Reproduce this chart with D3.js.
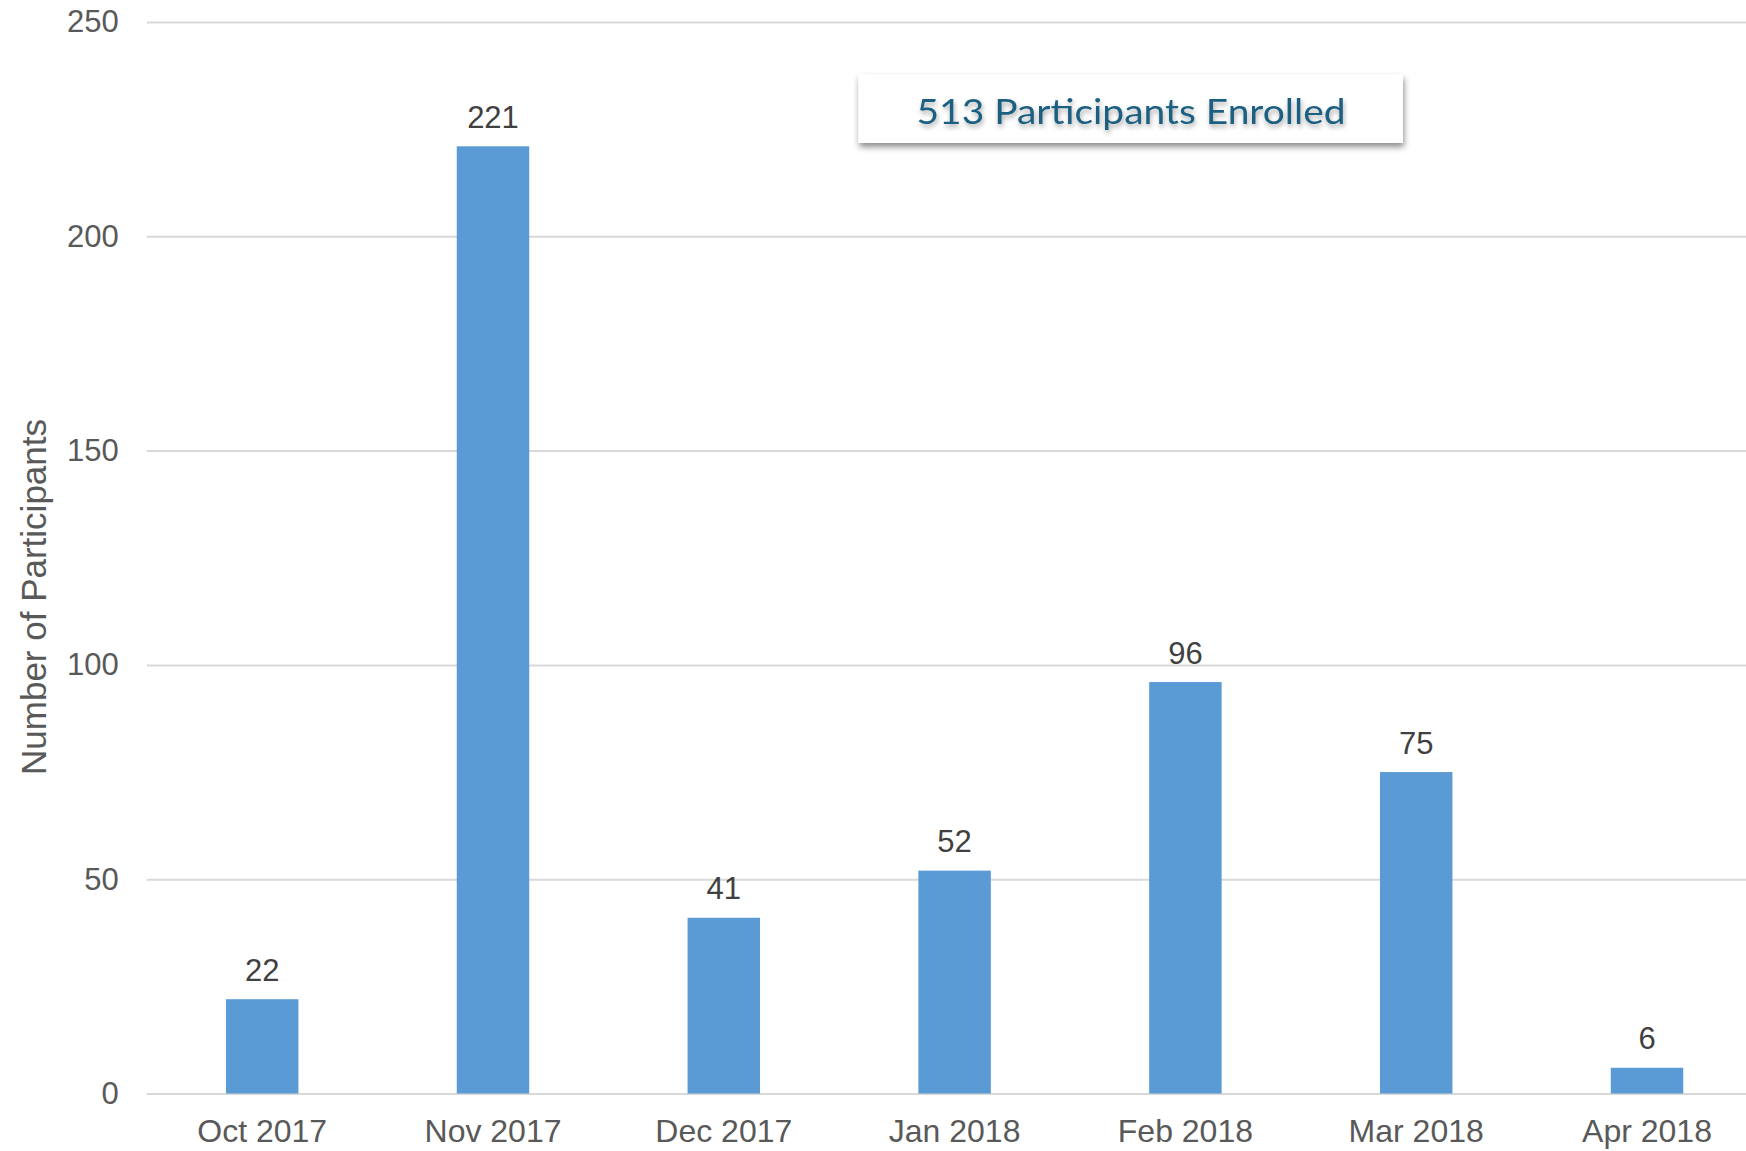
<!DOCTYPE html>
<html>
<head>
<meta charset="utf-8">
<script src="https://cdn.jsdelivr.net/npm/d3@7"></script>
<style>
  html, body { margin: 0; padding: 0; background: #fff; }
  svg { display: block; }
</style>
</head>
<body>
<script>
const categories = ["Oct 2017", "Nov 2017", "Dec 2017", "Jan 2018", "Feb 2018", "Mar 2018", "Apr 2018"];
const participants = [22, 221, 41, 52, 96, 75, 6];
const yTicks = [0, 50, 100, 150, 200, 250];
const yTitle = "Number of Participants";
const boxText = "513 Participants Enrolled";

const W = 1746, H = 1151;
const svg = d3.select("body").append("svg").attr("width", W).attr("height", H);

const defs = svg.append("defs");
const fBox = defs.append("filter").attr("id", "boxShadow")
  .attr("x", "-10%").attr("y", "-30%").attr("width", "120%").attr("height", "170%");
fBox.append("feDropShadow").attr("dx", 1).attr("dy", 4).attr("stdDeviation", 3)
  .attr("flood-color", "#000").attr("flood-opacity", 0.45);
const fTxt = defs.append("filter").attr("id", "txtShadow")
  .attr("x", "-10%").attr("y", "-30%").attr("width", "120%").attr("height", "170%");
fTxt.append("feDropShadow").attr("dx", 1).attr("dy", 3).attr("stdDeviation", 2.5)
  .attr("flood-color", "#000").attr("flood-opacity", 0.35);

const x0 = 146.8, step = 230.8;
const x = d3.scaleBand().domain(categories)
  .range([x0, x0 + step * categories.length])
  .paddingInner(0.686).paddingOuter(0.343);
const y = d3.scaleLinear().domain([0, 250]).range([1093.5, 22]);

// gridlines
svg.append("g").attr("transform", `translate(${x0},0)`)
  .call(d3.axisLeft(y).tickValues(yTicks).tickSize(-(W + 40 - x0)).tickFormat(""))
  .call(g => g.select(".domain").remove())
  .call(g => g.selectAll("line").attr("stroke", "#d9d9d9").attr("stroke-width", 2));

// y tick labels
svg.append("g").attr("transform", `translate(${x0},0)`)
  .call(d3.axisLeft(y).tickValues(yTicks).tickSize(0).tickPadding(28))
  .call(g => g.select(".domain").remove())
  .call(g => g.selectAll("text")
    .attr("font-family", "Liberation Sans, Arial, sans-serif")
    .attr("font-size", 31).attr("fill", "#595959"));

// bars
svg.append("g").selectAll("rect").data(participants).join("rect")
  .attr("x", (d, i) => x(categories[i]))
  .attr("width", x.bandwidth())
  .attr("y", d => y(d))
  .attr("height", d => y(0) - y(d))
  .attr("fill", "#5b9bd5");

// data labels
svg.append("g").selectAll("text").data(participants).join("text")
  .attr("x", (d, i) => x(categories[i]) + x.bandwidth() / 2)
  .attr("y", d => y(d) - 18.5)
  .attr("text-anchor", "middle")
  .attr("font-family", "Liberation Sans, Arial, sans-serif")
  .attr("font-size", 31).attr("fill", "#404040")
  .text(d => d);

// x axis labels
svg.append("g").attr("transform", `translate(0,${y(0)})`)
  .call(d3.axisBottom(x).tickSize(0))
  .call(g => g.select(".domain").remove())
  .call(g => g.selectAll("text")
    .attr("dy", null).attr("y", 48.5)
    .attr("font-family", "Liberation Sans, Arial, sans-serif")
    .attr("font-size", 32).attr("fill", "#595959"));

// y title
svg.append("text")
  .attr("transform", "translate(45.5,597) rotate(-90)")
  .attr("text-anchor", "middle")
  .attr("font-family", "Liberation Sans, Arial, sans-serif")
  .attr("font-size", 35).attr("fill", "#595959")
  .text(yTitle);

// annotation box
const bx = 858.5, by = 74.5, bw = 544.5, bh = 68.5;
svg.append("rect").attr("x", bx).attr("y", by).attr("width", bw).attr("height", bh)
  .attr("fill", "#fff").attr("filter", "url(#boxShadow)");
svg.append("text")
  .attr("x", 916.5).attr("y", 123.5)
  .attr("font-family", "Lato, 'Open Sans', sans-serif")
  .attr("font-size", 35)
  .attr("fill", "#1b5f80")
  .attr("textLength", 429).attr("lengthAdjust", "spacingAndGlyphs")
  .attr("filter", "url(#txtShadow)")
  .text(boxText);
</script>
</body>
</html>
